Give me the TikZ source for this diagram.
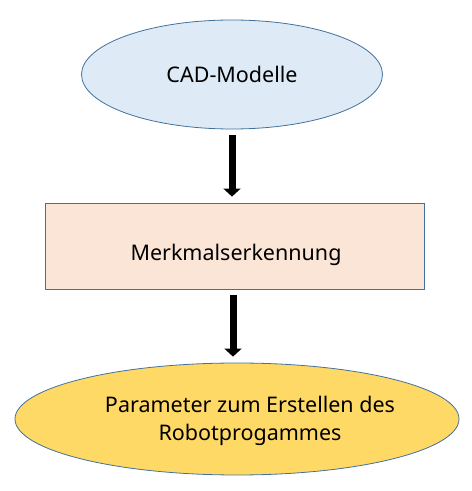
\documentclass[tikz,border=0pt]{standalone}
\usepackage{fontspec}
\setmainfont{Noto Sans}
\usetikzlibrary{shapes.geometric,arrows.meta}
\definecolor{cadblau}{HTML}{DEEBF7}
\definecolor{merkrosa}{HTML}{FBE5D6}
\definecolor{paragelb}{HTML}{FFD966}
\definecolor{rand}{HTML}{41719C}
\tikzset{
  kreis/.style={ellipse,draw=rand,line width=0.8pt,inner sep=0pt,font=\fontsize{21.5}{28}\selectfont},
  kasten/.style={rectangle,draw=rand,line width=0.8pt,inner sep=0pt},
  schrift/.style={font=\fontsize{21.5}{28}\selectfont,align=center},
  fluss/.style={line width=7pt,-{Triangle[width=17pt,length=8pt]},shorten <=6pt,shorten >=6pt}
}
\begin{document}
\begin{tikzpicture}[x=1pt,y=1pt]
    \useasboundingbox(0,0)rectangle(472,491);
    \node[kreis,fill=cadblau,minimum width=301,minimum height=109](cad)at(232,416.5){CAD-Modelle};%oben
    \node[kasten,fill=merkrosa,minimum width=379,minimum height=86](merk)at(234.5,245){};%Mitte
    \node[schrift](merktext)at(236,236){Merkmalserkennung};
    \node[kreis,fill=paragelb,minimum width=444,minimum height=112](para)at(237,72){};%unten
    \node[schrift](paratext)at(250,70){Parameter zum Erstellen des\\Robotprogammes};
    \draw[fluss](cad.south)--(cad.south|-merk.north);
    \draw[fluss](merk.south-|233,0)--(para.north-|233,0);
\end{tikzpicture}
\end{document}
